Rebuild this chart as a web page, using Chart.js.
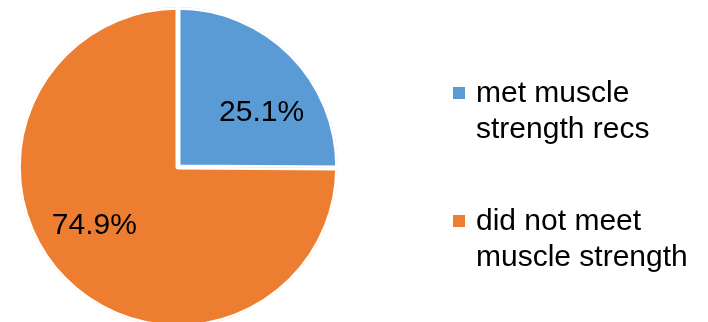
<!DOCTYPE html>
<html>
<head>
<meta charset="utf-8">
<script src="https://cdn.jsdelivr.net/npm/chart.js@4/dist/chart.umd.min.js"></script>
<style>
  html, body { margin: 0; padding: 0; background: #fff; overflow: hidden; }
  #wrap { position: relative; width: 708px; height: 335px; }
</style>
</head>
<body>
<div id="wrap"><canvas id="pie"></canvas></div>
<script>
// Share of adults meeting muscle strengthening recommendations
const categories = [
    ["met muscle", "strength recs"],
    ["did not meet", "muscle strength"]
];
const shares = [25.1, 74.9];
const sliceColors = ["#5B9BD5", "#ED7D31"];

const FONT = "'Liberation Sans', Arial, sans-serif";

// percent labels inside each slice, nudged a little clockwise
const sliceLabels = {
    id: "sliceLabels",
    afterDatasetsDraw(chart) {
        const ctx = chart.ctx;
        const meta = chart.getDatasetMeta(0);
        ctx.save();
        ctx.font = "30px " + FONT;
        ctx.fillStyle = "#000";
        ctx.textAlign = "center";
        ctx.textBaseline = "alphabetic";
        meta.data.forEach((arc, i) => {
            const p = arc.getProps(["x", "y", "startAngle", "endAngle", "outerRadius"], true);
            const a = (p.startAngle + p.endAngle) / 2 + 0.19;
            const r = p.outerRadius * 0.63;
            const x = p.x + Math.cos(a) * r;
            const y = p.y + Math.sin(a) * r;
            ctx.fillText(shares[i].toFixed(1) + "%", x, y + 30 * 0.357);
        });
        ctx.restore();
    }
};

// legend on the right with wrapped labels
const sideLegend = {
    id: "sideLegend",
    afterDraw(chart) {
        const ctx = chart.ctx;
        const left = 453, box = 12, textX = 476;
        const firstBase = 102, lineH = 35.5, itemGap = 128;
        ctx.save();
        ctx.font = "30px " + FONT;
        ctx.fillStyle = "#000";
        ctx.textAlign = "left";
        ctx.textBaseline = "alphabetic";
        categories.forEach((lines, i) => {
            const base = firstBase + i * itemGap;
            ctx.fillStyle = sliceColors[i];
            ctx.fillRect(left, base - 15, box, box);
            ctx.fillStyle = "#000";
            lines.forEach((t, j) => ctx.fillText(t, textX, base + j * lineH));
        });
        ctx.restore();
    }
};

new Chart(document.getElementById("pie"), {
    type: "pie",
    data: {
        labels: categories.map(l => l.join(" ")),
        datasets: [{
            data: shares,
            backgroundColor: sliceColors,
            borderColor: "#ffffff",
            borderWidth: 2.5,
            borderAlign: "inner"
        }]
    },
    options: {
        responsive: true,
        maintainAspectRatio: false,
        animation: false,
        radius: 160,
        layout: { padding: { left: 18, top: 7, right: 370, bottom: 8 } },
        plugins: {
            legend: { display: false },
            tooltip: { enabled: false }
        }
    },
    plugins: [sliceLabels, sideLegend]
});
</script>
</body>
</html>
